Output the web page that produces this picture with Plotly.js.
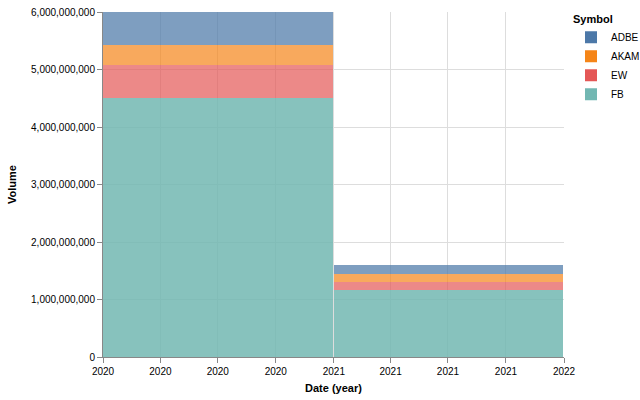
<!DOCTYPE html>
<html>
<head>
<meta charset="utf-8">
<script src="https://cdn.plot.ly/plotly-3.0.1.min.js"></script>
<style>html,body{margin:0;padding:0;background:#fff;}#chart{width:640px;height:400px;}</style>
</head>
<body>
<div id="chart"></div>
<script>
// Data
const years = ['2020-01-01', '2021-01-01'];
const symbols = ['FB', 'EW', 'AKAM', 'ADBE'];
const volFB   = [4500000000, 1165000000];
const volEW   = [575000000, 145000000];
const volAKAM = [355000000, 133000000];
const volADBE = [570000000, 157000000];
const xTickVals = ['2020-01-01','2020-04-01','2020-07-01','2020-10-01','2021-01-01','2021-04-01','2021-07-01','2021-10-01','2022-01-01'];
const xTickText = ['2020','2020','2020','2020','2021','2021','2021','2021','2022'];

const colors = {ADBE:'#4c78a8', AKAM:'#f58518', EW:'#e45756', FB:'#72b7b2'};
const opac = {ADBE: 0.72, AKAM: 0.7, EW: 0.7, FB: 0.85};
const values = {FB: volFB, EW: volEW, AKAM: volAKAM, ADBE: volADBE};
const DAY = 86400000;
const widths = years.map((y, i) => {
  const start = new Date(y + 'T00:00:00Z').getTime();
  const next = new Date((parseInt(y) + 1) + '-01-01T00:00:00Z').getTime();
  return next - start - 1.4 * DAY;
});

const traces = symbols.map(s => ({
  type: 'bar',
  name: s,
  x: years,
  y: values[s],
  width: widths,
  offset: 0,
  marker: {color: colors[s], opacity: opac[s], line: {width: 0}},
  hoverinfo: 'x+y+name'
}));

const layout = {
  width: 640, height: 400,
  margin: {l: 103, r: 76, t: 12, b: 43, autoexpand: false},
  barmode: 'stack',
  bargap: 0,
  paper_bgcolor: '#fff', plot_bgcolor: '#fff',
  font: {family: 'Liberation Sans, Arial, sans-serif', size: 10, color: '#000'},
  xaxis: {
    type: 'date',
    range: ['2020-01-01', '2022-01-01'],
    tickvals: xTickVals, ticktext: xTickText,
    ticks: 'outside', ticklen: 5, tickcolor: '#888', tickwidth: 1,
    showline: true, linecolor: '#888', linewidth: 1,
    showgrid: true, gridcolor: '#ddd', gridwidth: 1,
    zeroline: false,
    tickfont: {size: 10, color: '#000'},
    title: {text: 'Date (year)', font: {size: 11, color: '#000', weight: 'bold'}, standoff: 8}
  },
  yaxis: {
    range: [0, 6000000000],
    tickvals: [0,1000000000,2000000000,3000000000,4000000000,5000000000,6000000000],
    tickformat: ',d',
    ticks: 'outside', ticklen: 5, tickcolor: '#888', tickwidth: 1,
    showline: true, linecolor: '#888', linewidth: 1,
    showgrid: true, gridcolor: '#ddd', gridwidth: 1,
    zeroline: false,
    tickfont: {size: 10, color: '#000'},
    title: {text: 'Volume', font: {size: 11, color: '#000', weight: 'bold'}, standoff: 12}
  },
  legend: {
    x: (571 - 103) / 461, xanchor: 'left', y: 1.01, yanchor: 'top',
    traceorder: 'reversed',
    bgcolor: 'rgba(0,0,0,0)',
    title: {text: 'Symbol', font: {size: 11, weight: 'bold', color: '#000'}},
    font: {size: 10, color: '#000'},
    itemwidth: 30,
    tracegroupgap: 0
  },
  showlegend: true
};

Plotly.newPlot('chart', traces, layout, {displayModeBar: false, staticPlot: true});
</script>
</body>
</html>
